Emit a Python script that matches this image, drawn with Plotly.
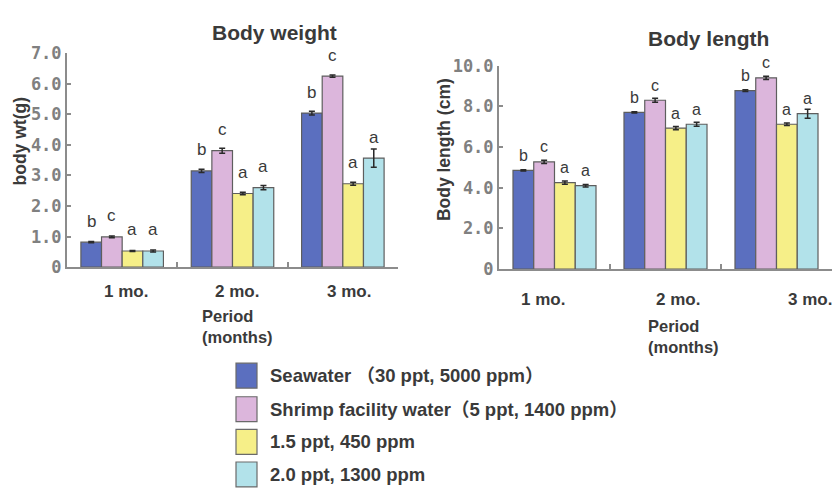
import plotly.graph_objects as go

W, H = 832, 496

periods = ["1 mo.", "2 mo.", "3 mo."]
series_names = ["Seawater （30 ppt, 5000 ppm）",
                "Shrimp facility water（5 ppt, 1400 ppm）",
                "1.5 ppt, 450 ppm",
                "2.0 ppt, 1300 ppm"]
colors = ["#5b6fbf", "#dcb6dc", "#f6ef88", "#b2e2ea"]

# Body weight (g)
bw_values = [[0.82, 3.15, 5.04],
             [0.99, 3.81, 6.25],
             [0.53, 2.41, 2.73],
             [0.53, 2.60, 3.57]]
bw_errors = [[0.02, 0.05, 0.06],
             [0.03, 0.08, 0.04],
             [0.02, 0.04, 0.05],
             [0.03, 0.07, 0.30]]
bw_letters = [["b", "b", "b"], ["c", "c", "c"], ["a", "a", "a"], ["a", "a", "a"]]

# Body length (cm)
bl_values = [[4.85, 7.70, 8.77],
             [5.27, 8.30, 9.40],
             [4.25, 6.93, 7.12],
             [4.10, 7.12, 7.64]]
bl_errors = [[0.03, 0.03, 0.04],
             [0.08, 0.10, 0.08],
             [0.08, 0.08, 0.06],
             [0.06, 0.10, 0.22]]
bl_letters = [["b", "b", "b"], ["c", "c", "c"], ["a", "a", "a"], ["a", "a", "a"]]

bw_ticks = [0, 1, 2, 3, 4, 5, 6, 7]
bw_ticktext = ["0", "1.0", "2.0", "3.0", "4.0", "5.0", "6.0", "7.0"]
bl_ticks = [0, 2, 4, 6, 8, 10]
bl_ticktext = ["0", "2.0", "4.0", "6.0", "8.0", "10.0"]

BAR_W = 0.187
TXT = "#3a3a3a"
AX = "#8c8c8c"
SANS = "Liberation Sans, Arial, Noto Sans CJK JP, sans-serif"
MONO = "DejaVu Sans Mono, Liberation Mono, monospace"


def px(x):
    return x / W


def py(y):
    return 1 - y / H


fig = go.Figure()
annotations = []

for chart, (vals, errs, letters, xa, ya, lshift, lsize) in enumerate([
        (bw_values, bw_errors, bw_letters, "x", "y", 21, 17),
        (bl_values, bl_errors, bl_letters, "x2", "y2", 15, 16)]):
    for i in range(4):
        xs = [k + (i - 1.5) * BAR_W for k in range(len(periods))]
        fig.add_trace(go.Bar(
            x=xs, y=vals[i], width=BAR_W, xaxis=xa, yaxis=ya,
            name=series_names[i], showlegend=False,
            marker=dict(color=colors[i], line=dict(color="#5e5e5e", width=1.2)),
            error_y=dict(type="data", array=errs[i], color="#2a2a2a",
                         thickness=1.5, width=3),
        ))
        for k in range(len(periods)):
            annotations.append(dict(
                x=xs[k], y=vals[i][k], xref=xa, yref=ya, text=letters[i][k],
                showarrow=False, xanchor="center", yanchor="middle", yshift=lshift,
                font=dict(family=SANS, size=lsize, color=TXT)))

# category labels
left_shift = [4, 4, 6]
right_shift = [-12, 12, 33]
for k, p in enumerate(periods):
    annotations.append(dict(x=k, y=0, xref="x", yref="y", text="<b>" + p + "</b>",
                            showarrow=False, xanchor="center", yanchor="middle",
                            yshift=-24, xshift=left_shift[k],
                            font=dict(family=SANS, size=17, color=TXT)))
    annotations.append(dict(x=k, y=0, xref="x2", yref="y2", text="<b>" + p + "</b>",
                            showarrow=False, xanchor="center", yanchor="middle",
                            yshift=-30, xshift=right_shift[k],
                            font=dict(family=SANS, size=17, color=TXT)))

# period axis titles
annotations.append(dict(x=px(200), y=py(330), xref="paper", yref="paper",
                        text="<b>Period</b><br><b>(months)</b>", align="left",
                        xanchor="left", yanchor="middle", showarrow=False,
                        font=dict(family=SANS, size=16.5, color=TXT)))
annotations.append(dict(x=px(646), y=py(340), xref="paper", yref="paper",
                        text="<b>Period</b><br><b>(months)</b>", align="left",
                        xanchor="left", yanchor="middle", showarrow=False,
                        font=dict(family=SANS, size=16.5, color=TXT)))

# titles
annotations.append(dict(x=px(274), y=py(23), xref="paper", yref="paper",
                        text="<b>Body weight</b>", showarrow=False,
                        xanchor="center", yanchor="middle",
                        font=dict(family=SANS, size=21, color=TXT)))
annotations.append(dict(x=px(708), y=py(30), xref="paper", yref="paper",
                        text="<b>Body length</b>", showarrow=False,
                        xanchor="center", yanchor="middle",
                        font=dict(family=SANS, size=21, color=TXT)))

# y axis titles
annotations.append(dict(x=px(20), y=py(137), xref="paper", yref="paper",
                        text="<b>body wt(g)</b>", textangle=-90, showarrow=False,
                        xanchor="center", yanchor="middle",
                        font=dict(family=SANS, size=17.5, color=TXT)))
annotations.append(dict(x=px(444), y=py(146), xref="paper", yref="paper",
                        text="<b>Body length (cm)</b>", textangle=-90, showarrow=False,
                        xanchor="center", yanchor="middle",
                        font=dict(family=SANS, size=17.5, color=TXT)))

# legend (custom)
shapes = []
row_y = [381, 416, 450, 484]
for i, name in enumerate(series_names):
    cy = row_y[i]
    shapes.append(dict(type="rect", xref="paper", yref="paper",
                       x0=px(236), x1=px(257), y0=py(cy + 13), y1=py(cy - 13),
                       fillcolor=colors[i], line=dict(color="#6a6a6a", width=1.2)))
    annotations.append(dict(x=px(268), y=py(cy), xref="paper", yref="paper",
                            text="<b>" + name + "</b>", xanchor="left",
                            yanchor="middle", showarrow=False,
                            font=dict(family=SANS, size=18.5, color=TXT)))

xcommon = dict(range=[-0.5, 2.5], tickvals=[0.5, 1.5, 2.5], ticks="inside",
               ticklen=5, tickcolor=AX, tickwidth=1.5, showticklabels=False,
               showline=True, linecolor=AX, linewidth=2, showgrid=False,
               zeroline=False, fixedrange=True)
ycommon = dict(ticks="inside", ticklen=4, tickcolor=AX, tickwidth=1.5,
               showline=True, linecolor=AX, linewidth=2, showgrid=False,
               zeroline=False, tickfont=dict(family=MONO, size=17, color="#808080",
                                             weight="bold"))

fig.update_layout(
    width=W, height=H, margin=dict(l=0, r=0, t=0, b=0),
    paper_bgcolor="white", plot_bgcolor="white",
    barmode="overlay", showlegend=False,
    xaxis=dict(domain=[px(67), px(398)], anchor="y", **xcommon),
    yaxis=dict(domain=[py(268), py(45)], range=[0, 7], anchor="x",
               tickvals=bw_ticks, ticktext=bw_ticktext, **ycommon),
    xaxis2=dict(domain=[px(499), 1.0], anchor="y2", **xcommon),
    yaxis2=dict(domain=[py(270), py(58)], range=[0, 10], anchor="x2",
                tickvals=bl_ticks, ticktext=bl_ticktext, **ycommon),
    annotations=annotations, shapes=shapes,
)

fig.write_html("out.html")
